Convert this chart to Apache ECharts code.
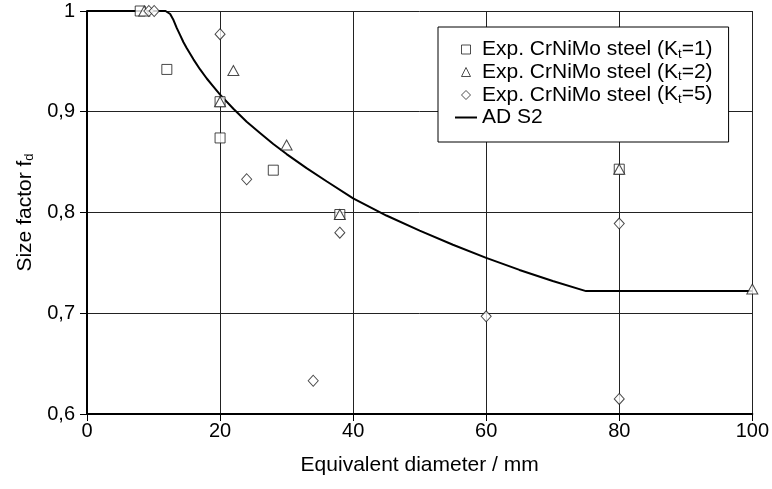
<!DOCTYPE html>
<html>
<head>
<meta charset="utf-8">
<script src="https://cdn.jsdelivr.net/npm/echarts@6/dist/echarts.min.js"></script>
<style>
html,body{margin:0;padding:0;background:#fff;}
#chart{width:772px;height:489px;}
</style>
</head>
<body>
<div id="chart"></div>
<script>
// ---- data ----
var xTicks = [0, 20, 40, 60, 80, 100];
var yTicks = [0.6, 0.7, 0.8, 0.9, 1.0];

// Exp. CrNiMo steel (Kt=1) – squares
var kt1 = [[8, 1.0], [12, 0.942], [20, 0.910], [20, 0.874], [28, 0.842], [38, 0.798], [80, 0.843]];
// Exp. CrNiMo steel (Kt=2) – triangles
var kt2 = [[8.6, 1.0], [20, 0.910], [22, 0.941], [30, 0.867], [38, 0.798], [80, 0.843], [100, 0.724]];
// Exp. CrNiMo steel (Kt=5) – diamonds
var kt5 = [[9.3, 1.0], [10.1, 1.0], [20, 0.977], [24, 0.833], [34, 0.633], [38, 0.780], [60, 0.697], [80, 0.789], [80, 0.615]];
// AD S2 curve
var adX = [0, 11.8, 12.5, 13, 13.5, 14, 14.5, 15, 16, 17, 18, 19, 20, 22, 24, 26, 28, 30, 33, 36, 40, 45, 50, 55, 60, 65, 70, 75, 100];
var adY = [1, 1, 0.997, 0.991, 0.983, 0.976, 0.969, 0.963, 0.952, 0.942, 0.933, 0.925, 0.917, 0.903, 0.890, 0.879, 0.868, 0.858, 0.844, 0.831, 0.814, 0.797, 0.782, 0.768, 0.755, 0.743, 0.732, 0.722, 0.722];

var FONT = 'Liberation Sans';
var FS = 21;

var chart = echarts.init(document.getElementById('chart'), null, {renderer: 'canvas'});

var adData = adX.map(function (x, i) { return [x, adY[i]]; });

var markerStyle = {color: '#ffffff', borderColor: '#1a1a1a', borderWidth: 1};
var legendMarker = {color: '#ffffff', borderColor: '#222', borderWidth: 1};

var rich = {
  b: {fontFamily: FONT, fontSize: FS, color: '#000', lineHeight: 22},
  s: {fontFamily: FONT, fontSize: 13, color: '#000', lineHeight: 13, verticalAlign: 'bottom'},
  ub: {fontFamily: FONT, fontSize: FS, color: '#000', lineHeight: 16, verticalAlign: 'top'},
  us: {fontFamily: FONT, fontSize: 13, color: '#000', lineHeight: 19, verticalAlign: 'bottom'}
};

var legendText = {
  kt1: '{b|Exp. CrNiMo steel (K}{s|t}{b|=1)}',
  kt2: '{b|Exp. CrNiMo steel (K}{s|t}{b|=2)}',
  kt5: '{b|Exp. CrNiMo steel }{ub|(K}{us|t}{ub|=5)}',
  ad: '{b|AD S2}'
};

chart.setOption({
  animation: false,
  backgroundColor: '#ffffff',
  grid: {left: 87, right: 17, top: 11, bottom: 75, containLabel: false},
  legend: {
    show: true,
    orient: 'vertical',
    left: 438,
    top: 27,
    padding: [12, 16, 14, 17],
    itemGap: 1,
    itemWidth: 22,
    itemHeight: 9,
    symbolKeepAspect: true,
    backgroundColor: '#ffffff',
    borderColor: '#000000',
    borderWidth: 1,
    data: [
      {name: 'kt1', icon: 'path://M0,0L10,0L10,10L0,10Z', itemStyle: legendMarker},
      {name: 'kt2', icon: 'path://M5,0L10,10L0,10Z', itemStyle: legendMarker},
      {name: 'kt5', icon: 'path://M5,0L10,5L5,10L0,5Z', itemStyle: legendMarker},
      {name: 'ad', icon: 'path://M0,0L22,0L22,2L0,2Z', itemStyle: {color: '#000', borderWidth: 0}}
    ],
    formatter: function (name) { return legendText[name]; },
    textStyle: {fontFamily: FONT, fontSize: FS, color: '#000', rich: rich}
  },
  xAxis: {
    type: 'value',
    min: xTicks[0],
    max: xTicks[xTicks.length - 1],
    interval: 20,
    name: 'Equivalent diameter / mm',
    nameLocation: 'middle',
    nameGap: 41,
    nameTextStyle: {fontFamily: FONT, fontSize: FS, color: '#000'},
    axisLine: {show: true, onZero: false, lineStyle: {color: '#000', width: 2}},
    axisTick: {show: true, length: 7, lineStyle: {color: '#000', width: 1}},
    axisLabel: {fontFamily: FONT, fontSize: 20, color: '#000', margin: 7},
    splitLine: {show: true, lineStyle: {color: '#222', width: 1}}
  },
  yAxis: {
    type: 'value',
    min: yTicks[0],
    max: yTicks[yTicks.length - 1],
    interval: 0.1,
    name: '{b|Size factor f}{s|d}',
    nameLocation: 'middle',
    nameRotate: 90,
    nameGap: 46,
    nameTextStyle: {fontFamily: FONT, fontSize: FS, color: '#000', rich: rich},
    axisLine: {show: true, onZero: false, lineStyle: {color: '#000', width: 2}},
    axisTick: {show: true, length: 7, lineStyle: {color: '#000', width: 1}},
    axisLabel: {
      fontFamily: FONT, fontSize: 20, color: '#000', margin: 12,
      formatter: function (v) {
        var r = Math.round(v * 10) / 10;
        return r === 1 ? '1' : String(r).replace('.', ',');
      }
    },
    splitLine: {show: true, lineStyle: {color: '#222', width: 1}}
  },
  series: [
    {
      name: 'ad', type: 'line', data: adData, showSymbol: false, symbol: 'none',
      lineStyle: {color: '#000', width: 2}, itemStyle: {color: '#000'}, z: 2
    },
    {
      name: 'kt1', type: 'scatter', data: kt1, symbol: 'rect', symbolSize: 10,
      itemStyle: markerStyle, clip: false, z: 3
    },
    {
      name: 'kt2', type: 'scatter', data: kt2, symbol: 'triangle', symbolSize: [11, 10],
      itemStyle: markerStyle, clip: false, z: 4
    },
    {
      name: 'kt5', type: 'scatter', data: kt5, symbol: 'diamond', symbolSize: [10, 11],
      itemStyle: markerStyle, clip: false, z: 5
    }
  ]
});
</script>
</body>
</html>
